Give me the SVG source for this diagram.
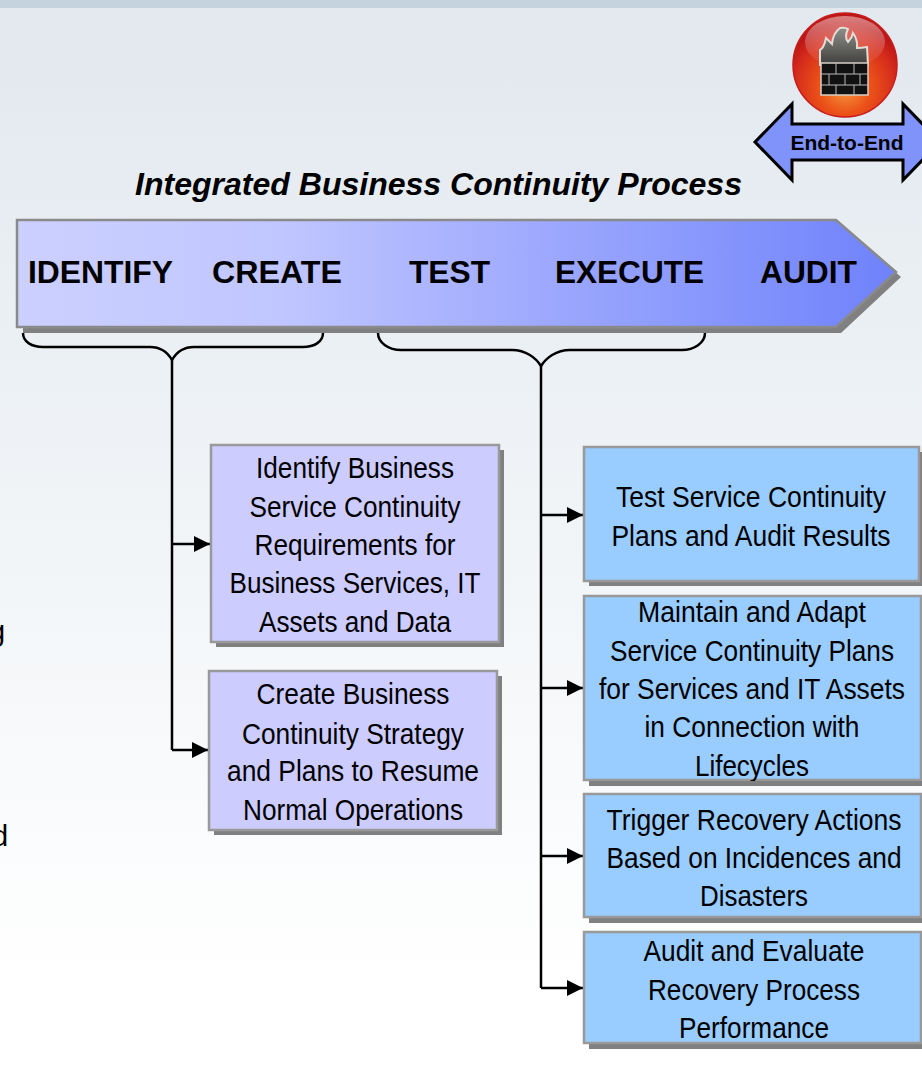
<svg xmlns="http://www.w3.org/2000/svg" width="922" height="1065" viewBox="0 0 922 1065">
<style>
.l{font-family:"Liberation Sans",Arial,sans-serif;font-size:29px;fill:#000;text-anchor:middle}
.h{font-family:"Liberation Sans",Arial,sans-serif;font-size:32px;font-weight:bold;fill:#000}
.sh{fill:#808080}
.p{fill:#ccccff;stroke:#999;stroke-width:2.5}
.b{fill:#99ccff;stroke:#999;stroke-width:2.5}
.c{fill:none;stroke:#000;stroke-width:2.5}
</style>
<defs>
<linearGradient id="bg" x1="0" y1="0" x2="0" y2="1"><stop offset="0" stop-color="#e1e8ee"/><stop offset="0.93" stop-color="#fff"/></linearGradient>
<linearGradient id="ar" x1="0" y1="0" x2="1" y2="0"><stop offset="0" stop-color="#ccd0ff"/><stop offset="0.3" stop-color="#c0c6ff"/><stop offset="1" stop-color="#6f82fb"/></linearGradient>
<radialGradient id="ball" cx="0.5" cy="0.72" r="0.62"><stop offset="0" stop-color="#f59a40"/><stop offset="0.4" stop-color="#ec5218"/><stop offset="0.8" stop-color="#d42a1c"/><stop offset="1" stop-color="#bc1616"/></radialGradient>
<linearGradient id="fl" x1="0" y1="0" x2="0" y2="1"><stop offset="0" stop-color="#8f8f8a"/><stop offset="1" stop-color="#3e3e3c"/></linearGradient>
<linearGradient id="hl" x1="0" y1="0" x2="0" y2="1"><stop offset="0" stop-color="#fff" stop-opacity="0.45"/><stop offset="1" stop-color="#fff" stop-opacity="0"/></linearGradient>
<marker id="a" viewBox="0 0 16 16" markerWidth="16" markerHeight="16" refX="16" refY="8" orient="auto" markerUnits="userSpaceOnUse"><path d="M0 0L16 8L0 16Z" fill="#000"/></marker>
</defs>
<rect width="922" height="1065" fill="url(#bg)"/>
<rect width="922" height="8" fill="#c5d3df"/>
<text class="l" x="-11" y="641" style="text-anchor:start">g</text>
<text class="l" x="-8" y="846" style="text-anchor:start">d</text>

<g id="icon">
<circle cx="845" cy="65" r="52" fill="url(#ball)" stroke="#c81c1c" stroke-width="1.5"/>
<ellipse cx="845" cy="42" rx="40" ry="26" fill="url(#hl)"/>
<path d="M820 65L820 50Q824 48 826 38Q830 42 832 44Q833 33 840 28Q845 27 848 29Q844 37 848 42Q852 38 853 33Q858 40 857 48Q861 48 867 47L868 65Z" fill="url(#fl)" stroke="#e4dcd6" stroke-width="2"/>
<rect x="821" y="63" width="47" height="32" fill="#111" stroke="#d8d0c8" stroke-width="1.5"/>
<path d="M821 74H868M821 85H868M836 63V74M854 63V74M829 74V85M845 74V85M860 74V85M836 85V95M854 85V95" stroke="#bbb" stroke-width="1" fill="none"/>
</g>
<g id="end-to-end">
<path d="M755 142L792 104V124H903V104L940 142L903 180V160H792V180Z" fill="#8093fb" stroke="#000" stroke-width="3"/>
<text x="847" y="150" font-family="Liberation Sans,Arial,sans-serif" font-size="20" font-weight="bold" text-anchor="middle" textLength="113" lengthAdjust="spacingAndGlyphs">End-to-End</text>
</g>
<text id="title" x="135" y="195" font-family="Liberation Sans,Arial,sans-serif" font-size="32" font-weight="bold" font-style="italic" textLength="607" lengthAdjust="spacingAndGlyphs">Integrated Business Continuity Process</text>

<g id="process">
<path class="sh" d="M23 225H841L901 277L841 333H23Z"/>
<path d="M17 220H836L896 272L836 327H17Z" fill="url(#ar)" stroke="#8a8a8a" stroke-width="2.5"/>
<text class="h" x="28" y="283" textLength="145" lengthAdjust="spacingAndGlyphs">IDENTIFY</text>
<text class="h" x="212" y="283" textLength="130" lengthAdjust="spacingAndGlyphs">CREATE</text>
<text class="h" x="409" y="283" textLength="81" lengthAdjust="spacingAndGlyphs">TEST</text>
<text class="h" x="555" y="283" textLength="149" lengthAdjust="spacingAndGlyphs">EXECUTE</text>
<text class="h" x="760" y="283" textLength="97" lengthAdjust="spacingAndGlyphs">AUDIT</text>
</g>

<g id="connectors">
<path class="c" d="M23 333C23 342 32 347 43 347H150C162 347 168 353 172 360C176 353 182 347 194 347H303C314 347 323 342 323 333"/>
<path class="c" d="M378 333C378 343 389 350 401 350H512C526 350 536 358 541 366C546 358 556 350 570 350H682C694 350 705 343 705 333"/>
<path class="c" d="M172 358V750"/>
<path class="c" d="M541 364V988"/>
<path class="c" d="M172 544H210" marker-end="url(#a)"/>
<path class="c" d="M172 750H208" marker-end="url(#a)"/>
<path class="c" d="M541 515H583" marker-end="url(#a)"/>
<path class="c" d="M541 688H583" marker-end="url(#a)"/>
<path class="c" d="M541 856H583" marker-end="url(#a)"/>
<path class="c" d="M541 988H583" marker-end="url(#a)"/>
</g>

<g id="n1">
<rect class="sh" x="216" y="450" width="288" height="197"/><rect class="p" x="211" y="445" width="288" height="197"/>
<text class="l" x="355" y="478" textLength="198" lengthAdjust="spacingAndGlyphs">Identify Business</text>
<text class="l" x="355" y="517" textLength="211" lengthAdjust="spacingAndGlyphs">Service Continuity</text>
<text class="l" x="355" y="555" textLength="201" lengthAdjust="spacingAndGlyphs">Requirements for</text>
<text class="l" x="355" y="593" textLength="251" lengthAdjust="spacingAndGlyphs">Business Services, IT</text>
<text class="l" x="355" y="632" textLength="192" lengthAdjust="spacingAndGlyphs">Assets and Data</text>
</g>
<g id="n2">
<rect class="sh" x="214" y="676" width="288" height="159"/><rect class="p" x="209" y="671" width="288" height="159"/>
<text class="l" x="353" y="704" textLength="193" lengthAdjust="spacingAndGlyphs">Create Business</text>
<text class="l" x="353" y="744" textLength="222" lengthAdjust="spacingAndGlyphs">Continuity Strategy</text>
<text class="l" x="353" y="781" textLength="252" lengthAdjust="spacingAndGlyphs">and Plans to Resume</text>
<text class="l" x="353" y="820" textLength="220" lengthAdjust="spacingAndGlyphs">Normal Operations</text>
</g>
<g id="n3">
<rect class="sh" x="589" y="452" width="333" height="134"/><rect class="b" x="584" y="447" width="335" height="134"/>
<text class="l" x="751" y="507" textLength="270" lengthAdjust="spacingAndGlyphs">Test Service Continuity</text>
<text class="l" x="751" y="546" textLength="279" lengthAdjust="spacingAndGlyphs">Plans and Audit Results</text>
</g>
<g id="n4">
<rect class="sh" x="589" y="601" width="333" height="185"/><rect class="b" x="584" y="596" width="337" height="184"/>
<text class="l" x="752" y="622" textLength="228" lengthAdjust="spacingAndGlyphs">Maintain and Adapt</text>
<text class="l" x="752" y="661" textLength="284" lengthAdjust="spacingAndGlyphs">Service Continuity Plans</text>
<text class="l" x="752" y="699" textLength="306" lengthAdjust="spacingAndGlyphs">for Services and IT Assets</text>
<text class="l" x="752" y="737" textLength="215" lengthAdjust="spacingAndGlyphs">in Connection with</text>
<text class="l" x="752" y="776" textLength="114" lengthAdjust="spacingAndGlyphs">Lifecycles</text>
<rect class="sh" x="589" y="781" width="333" height="5"/>
</g>
<g id="n5">
<rect class="sh" x="589" y="799" width="333" height="124"/><rect class="b" x="584" y="794" width="337" height="123"/>
<text class="l" x="754" y="830" textLength="295" lengthAdjust="spacingAndGlyphs">Trigger Recovery Actions</text>
<text class="l" x="754" y="868" textLength="295" lengthAdjust="spacingAndGlyphs">Based on Incidences and</text>
<text class="l" x="754" y="906" textLength="108" lengthAdjust="spacingAndGlyphs">Disasters</text>
</g>
<g id="n6">
<rect class="sh" x="589" y="937" width="333" height="112"/><rect class="b" x="584" y="932" width="337" height="111"/>
<text class="l" x="754" y="961" textLength="221" lengthAdjust="spacingAndGlyphs">Audit and Evaluate</text>
<text class="l" x="754" y="1000" textLength="212" lengthAdjust="spacingAndGlyphs">Recovery Process</text>
<text class="l" x="754" y="1038" textLength="150" lengthAdjust="spacingAndGlyphs">Performance</text>
</g>
</svg>
